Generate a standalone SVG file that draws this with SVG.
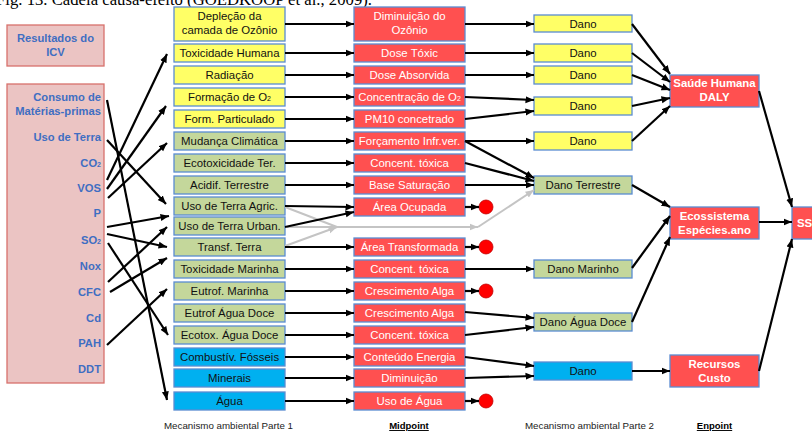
<svg xmlns="http://www.w3.org/2000/svg" width="812" height="434" viewBox="0 0 812 434">
  <defs>
    <marker id="ah" markerUnits="userSpaceOnUse" markerWidth="9" markerHeight="8" refX="8.5" refY="4" orient="auto">
      <path d="M0,0.5 L8.5,4 L0,7.5 z" fill="#000"/>
    </marker>
    <marker id="ahg" markerUnits="userSpaceOnUse" markerWidth="9" markerHeight="8" refX="8.5" refY="4" orient="auto">
      <path d="M0,0.5 L8.5,4 L0,7.5 z" fill="#C4C4C4"/>
    </marker>
  </defs>
  <style>
    text { font-family: "Liberation Sans", Arial, sans-serif; }
    .cap { font-family: "Liberation Serif", "Times New Roman", serif; font-size: 17.5px; fill: #000; }
    .icv { fill: #EBC4C3; stroke: #D7716C; stroke-width: 1.3; }
    .lab { font-size: 11.2px; font-weight: bold; fill: #3F6EC2; text-anchor: end; }
    .labc { font-size: 11.2px; font-weight: bold; fill: #3F6EC2; text-anchor: middle; }
    .y { fill: #FFFF66; stroke: #5A8CD2; stroke-width: 1.3; }
    .g { fill: #C4D79B; stroke: #5A8CD2; stroke-width: 1.3; }
    .b { fill: #00B0F0; stroke: #5A8CD2; stroke-width: 1.3; }
    .r { fill: #FF5050; stroke: #5A8CD2; stroke-width: 1.3; }
    .t { font-size: 11.4px; fill: #111; text-anchor: middle; }
    .tw { font-size: 11.4px; fill: #fff; text-anchor: middle; }
    .tb { font-size: 11.4px; font-weight: bold; fill: #fff; text-anchor: middle; }
    .dot { fill: #FF0000; stroke: #C00000; stroke-width: 0.8; }
    .ln { stroke: #000; stroke-width: 2.2; fill: none; marker-end: url(#ah); }
    .gl { stroke: #C4C4C4; stroke-width: 2; fill: none; }
    .foot { font-size: 9.8px; fill: #222; }
    .head { font-size: 9.5px; font-weight: bold; fill: #000; text-decoration: underline; text-anchor: middle; }
  </style>

  <!-- figure caption, running off the top edge -->
  <text class="cap" x="-4" y="5" textLength="376" lengthAdjust="spacingAndGlyphs">Fig. 13. Cadeia causa-efeito (GOEDKOOP et al., 2009).</text>

  <!-- inventory results -->
  <g id="icv-title">
    <rect class="icv" x="7" y="25" width="97" height="41"/>
    <text class="labc" x="55.5" y="42">Resultados do</text>
    <text class="labc" x="55.5" y="56">ICV</text>
  </g>
  <g id="icv-list">
    <rect class="icv" x="7" y="84" width="97" height="299"/>
    <text class="lab" x="101" y="101">Consumo de</text>
    <text class="lab" x="101" y="115">Matérias-primas</text>
    <text class="lab" x="101" y="141">Uso de Terra</text>
    <text class="lab" x="101" y="167">CO<tspan font-size="7">2</tspan></text>
    <text class="lab" x="101" y="192">VOS</text>
    <text class="lab" x="101" y="217">P</text>
    <text class="lab" x="101" y="244">SO<tspan font-size="7">2</tspan></text>
    <text class="lab" x="101" y="270">Nox</text>
    <text class="lab" x="101" y="296">CFC</text>
    <text class="lab" x="101" y="322">Cd</text>
    <text class="lab" x="101" y="347">PAH</text>
    <text class="lab" x="101" y="373">DDT</text>
  </g>

  <!-- impact categories -->
  <g id="c-ozonio"><rect class="y" x="174" y="7" width="111" height="34"/><text class="t" x="229.5" y="20">Depleção da</text><text class="t" x="229.5" y="34">camada de Ozônio</text></g>
  <g id="c-tox-humana"><rect class="y" x="174" y="44" width="111" height="18"/><text class="t" x="229.5" y="57">Toxicidade Humana</text></g>
  <g id="c-radiacao"><rect class="y" x="174" y="66" width="111" height="18"/><text class="t" x="229.5" y="79">Radiação</text></g>
  <g id="c-formacao-o2"><rect class="y" x="174" y="88" width="111" height="18"/><text class="t" x="229.5" y="101">Formação de O<tspan font-size="7">2</tspan></text></g>
  <g id="c-particulado"><rect class="y" x="174" y="110" width="111" height="18"/><text class="t" x="229.5" y="123">Form. Particulado</text></g>
  <g id="c-clima"><rect class="g" x="174" y="132" width="111" height="18"/><text class="t" x="229.5" y="145">Mudança Climática</text></g>
  <g id="c-ecotox-ter"><rect class="g" x="174" y="154" width="111" height="18"/><text class="t" x="229.5" y="167">Ecotoxicidade Ter.</text></g>
  <g id="c-acidif"><rect class="g" x="174" y="176" width="111" height="18"/><text class="t" x="229.5" y="189">Acidif. Terrestre</text></g>
  <g id="c-terra-agric"><rect class="g" x="174" y="197" width="111" height="18"/><text class="t" x="229.5" y="210">Uso de Terra Agric.</text></g>
  <g id="c-terra-urban"><rect class="g" x="174" y="217" width="111" height="18"/><text class="t" x="229.5" y="230">Uso de Terra Urban.</text></g>
  <g id="c-transf"><rect class="g" x="174" y="238" width="111" height="18"/><text class="t" x="229.5" y="251">Transf. Terra</text></g>
  <g id="c-tox-marinha"><rect class="g" x="174" y="260" width="111" height="18"/><text class="t" x="229.5" y="273">Toxicidade Marinha</text></g>
  <g id="c-eutrof-marinha"><rect class="g" x="174" y="282" width="111" height="18"/><text class="t" x="229.5" y="295">Eutrof. Marinha</text></g>
  <g id="c-eutrof-doce"><rect class="g" x="174" y="304" width="111" height="18"/><text class="t" x="229.5" y="317">Eutrof Água Doce</text></g>
  <g id="c-ecotox-doce"><rect class="g" x="174" y="326" width="111" height="18"/><text class="t" x="229.5" y="339">Ecotox. Água Doce</text></g>
  <g id="c-fosseis"><rect class="b" x="174" y="348" width="111" height="18"/><text class="t" x="229.5" y="361">Combustív. Fósseis</text></g>
  <g id="c-minerais"><rect class="b" x="174" y="369" width="111" height="18"/><text class="t" x="229.5" y="382">Minerais</text></g>
  <g id="c-agua"><rect class="b" x="174" y="392" width="111" height="18"/><text class="t" x="229.5" y="405">Água</text></g>

  <!-- midpoints -->
  <g id="m-ozonio"><rect class="r" x="354" y="7" width="111" height="34"/><text class="tw" x="409.5" y="20">Diminuição do</text><text class="tw" x="409.5" y="34">Ozônio</text></g>
  <g id="m-dose-toxic"><rect class="r" x="354" y="44" width="111" height="18"/><text class="tw" x="409.5" y="57">Dose Tóxic</text></g>
  <g id="m-dose-abs"><rect class="r" x="354" y="66" width="111" height="18"/><text class="tw" x="409.5" y="79">Dose Absorvida</text></g>
  <g id="m-conc-o2"><rect class="r" x="354" y="88" width="111" height="18"/><text class="tw" x="409.5" y="101">Concentração de O<tspan font-size="7">2</tspan></text></g>
  <g id="m-pm10"><rect class="r" x="354" y="110" width="111" height="18"/><text class="tw" x="409.5" y="123">PM10 concetrado</text></g>
  <g id="m-forcamento"><rect class="r" x="354" y="132" width="111" height="18"/><text class="tw" x="409.5" y="145">Forçamento Infr.ver.</text></g>
  <g id="m-conc-ter"><rect class="r" x="354" y="154" width="111" height="18"/><text class="tw" x="409.5" y="167">Concent. tóxica</text></g>
  <g id="m-base"><rect class="r" x="354" y="176" width="111" height="18"/><text class="tw" x="409.5" y="189">Base Saturação</text></g>
  <g id="m-area-ocup"><rect class="r" x="354" y="198" width="111" height="18"/><text class="tw" x="409.5" y="211">Área Ocupada</text><circle class="dot" cx="486" cy="207" r="7"/></g>
  <g id="m-area-transf"><rect class="r" x="354" y="238" width="111" height="18"/><text class="tw" x="409.5" y="251">Área Transformada</text><circle class="dot" cx="486" cy="247" r="7"/></g>
  <g id="m-conc-mar"><rect class="r" x="354" y="260" width="111" height="18"/><text class="tw" x="409.5" y="273">Concent. tóxica</text></g>
  <g id="m-alga-mar"><rect class="r" x="354" y="282" width="111" height="18"/><text class="tw" x="409.5" y="295">Crescimento Alga</text><circle class="dot" cx="486" cy="291" r="7"/></g>
  <g id="m-alga-doce"><rect class="r" x="354" y="304" width="111" height="18"/><text class="tw" x="409.5" y="317">Crescimento Alga</text></g>
  <g id="m-conc-doce"><rect class="r" x="354" y="326" width="111" height="18"/><text class="tw" x="409.5" y="339">Concent. tóxica</text></g>
  <g id="m-energia"><rect class="r" x="354" y="348" width="111" height="18"/><text class="tw" x="409.5" y="361">Conteúdo Energia</text></g>
  <g id="m-diminuicao"><rect class="r" x="354" y="369" width="111" height="18"/><text class="tw" x="409.5" y="382">Diminuição</text></g>
  <g id="m-uso-agua"><rect class="r" x="354" y="392" width="111" height="18"/><text class="tw" x="409.5" y="405">Uso de Água</text><circle class="dot" cx="486" cy="401" r="7"/></g>

  <!-- damage -->
  <g id="d-1"><rect class="y" x="534" y="15" width="98" height="17"/><text class="t" x="583" y="28">Dano</text></g>
  <g id="d-2"><rect class="y" x="534" y="44" width="98" height="18"/><text class="t" x="583" y="57">Dano</text></g>
  <g id="d-3"><rect class="y" x="534" y="66" width="98" height="18"/><text class="t" x="583" y="79">Dano</text></g>
  <g id="d-4"><rect class="y" x="534" y="97" width="98" height="18"/><text class="t" x="583" y="110">Dano</text></g>
  <g id="d-5"><rect class="y" x="534" y="132" width="98" height="18"/><text class="t" x="583" y="145">Dano</text></g>
  <g id="d-terrestre"><rect class="g" x="534" y="176" width="98" height="18"/><text class="t" x="583" y="189">Dano Terrestre</text></g>
  <g id="d-marinho"><rect class="g" x="534" y="260" width="98" height="18"/><text class="t" x="583" y="273">Dano Marinho</text></g>
  <g id="d-agua-doce"><rect class="g" x="534" y="313" width="98" height="18"/><text class="t" x="583" y="326">Dano Água Doce</text></g>
  <g id="d-recursos"><rect class="b" x="534" y="362" width="98" height="18"/><text class="t" x="583" y="375">Dano</text></g>

  <!-- endpoints -->
  <g id="e-saude"><rect class="r" x="670" y="75" width="89" height="32"/><text class="tb" x="714.5" y="87">Saúde Humana</text><text class="tb" x="714.5" y="101">DALY</text></g>
  <g id="e-ecossistema"><rect class="r" x="670" y="207" width="89" height="32"/><text class="tb" x="714.5" y="220">Ecossistema</text><text class="tb" x="714.5" y="234">Espécies.ano</text></g>
  <g id="e-recursos"><rect class="r" x="670" y="355" width="89" height="32"/><text class="tb" x="714.5" y="368">Recursos</text><text class="tb" x="714.5" y="382">Custo</text></g>
  <g id="e-single"><rect class="r" x="792" y="207" width="40" height="32"/><text class="tb" x="797" y="227" style="text-anchor:start">SS</text></g>

  <!-- connectors -->
  <g id="connectors">
    <!-- land-use flow (grey) -->
    <path class="gl" d="M285,207 L337,227"/>
    <path class="gl" d="M285,246 L337,227" marker-end="url(#ahg)"/>
    <path class="gl" d="M287,227 L478,227" marker-end="url(#ahg)"/>
    <path class="gl" d="M478,227 L534,190" marker-end="url(#ahg)"/>

    <!-- inventory to categories -->
    <path class="ln" d="M107,100 L167,400"/>
    <path class="ln" d="M107,140 L166,204"/>
    <path class="ln" d="M107,180 L167,54"/>
    <path class="ln" d="M107,189 L166,106"/>
    <path class="ln" d="M108,198 L167,143"/>
    <path class="ln" d="M107,227 L169,216"/>
    <path class="ln" d="M107,234 L167,247"/>
    <path class="ln" d="M108,243 L168,335"/>
    <path class="ln" d="M108,282 L167,227"/>
    <path class="ln" d="M110,292 L167,258"/>
    <path class="ln" d="M107,345 L167,289"/>

    <!-- categories to midpoints -->
    <path class="ln" d="M285,24 L354,24"/>
    <path class="ln" d="M285,53 L354,53"/>
    <path class="ln" d="M285,75 L354,75"/>
    <path class="ln" d="M285,97 L354,97"/>
    <path class="ln" d="M285,119 L354,119"/>
    <path class="ln" d="M285,141 L354,141"/>
    <path class="ln" d="M285,163 L354,163"/>
    <path class="ln" d="M285,185 L354,185"/>
    <path class="ln" d="M285,206 L354,207"/>
    <path class="ln" d="M285,227 L354,212"/>
    <path class="ln" d="M285,247 L354,247"/>
    <path class="ln" d="M285,269 L354,269"/>
    <path class="ln" d="M285,291 L354,291"/>
    <path class="ln" d="M285,313 L354,313"/>
    <path class="ln" d="M285,335 L354,335"/>
    <path class="ln" d="M285,357 L354,357"/>
    <path class="ln" d="M285,378 L354,378"/>
    <path class="ln" d="M285,401 L354,401"/>

    <!-- midpoints to end markers -->
    <path class="ln" d="M465,207 L479,207"/>
    <path class="ln" d="M465,247 L479,247"/>
    <path class="ln" d="M465,291 L479,291"/>
    <path class="ln" d="M465,401 L479,401"/>

    <!-- midpoints to damage -->
    <path class="ln" d="M465,24 L534,24"/>
    <path class="ln" d="M465,53 L534,53"/>
    <path class="ln" d="M465,75 L534,75"/>
    <path class="ln" d="M465,97 L534,100"/>
    <path class="ln" d="M465,119 L534,111"/>
    <path class="ln" d="M465,141 L534,141"/>
    <path class="ln" d="M465,141 L534,178"/>
    <path class="ln" d="M465,163 L534,181"/>
    <path class="ln" d="M465,185 L534,185"/>
    <path class="ln" d="M465,269 L534,269"/>
    <path class="ln" d="M465,312 L534,318"/>
    <path class="ln" d="M465,335 L534,327"/>
    <path class="ln" d="M465,357 L534,366"/>
    <path class="ln" d="M465,378 L534,376"/>

    <!-- damage to endpoints -->
    <path class="ln" d="M632,24 L670,74"/>
    <path class="ln" d="M632,53 L670,82"/>
    <path class="ln" d="M632,75 L670,90"/>
    <path class="ln" d="M632,106 L670,98"/>
    <path class="ln" d="M632,141 L670,106"/>
    <path class="ln" d="M632,185 L670,207"/>
    <path class="ln" d="M632,268 L670,216"/>
    <path class="ln" d="M632,322 L670,237"/>
    <path class="ln" d="M632,371 L670,371"/>

    <!-- endpoints to single score -->
    <path class="ln" d="M759,91 L792,207"/>
    <path class="ln" d="M759,222 L792,222"/>
    <path class="ln" d="M759,371 L792,239"/>
  </g>

  <!-- column captions -->
  <text class="foot" x="164" y="429" textLength="129" lengthAdjust="spacingAndGlyphs">Mecanismo ambiental Parte 1</text>
  <text class="head" x="409" y="429">Midpoint</text>
  <text class="foot" x="525" y="429" textLength="129" lengthAdjust="spacingAndGlyphs">Mecanismo ambiental Parte 2</text>
  <text class="head" x="714.5" y="429">Enpoint</text>
</svg>
